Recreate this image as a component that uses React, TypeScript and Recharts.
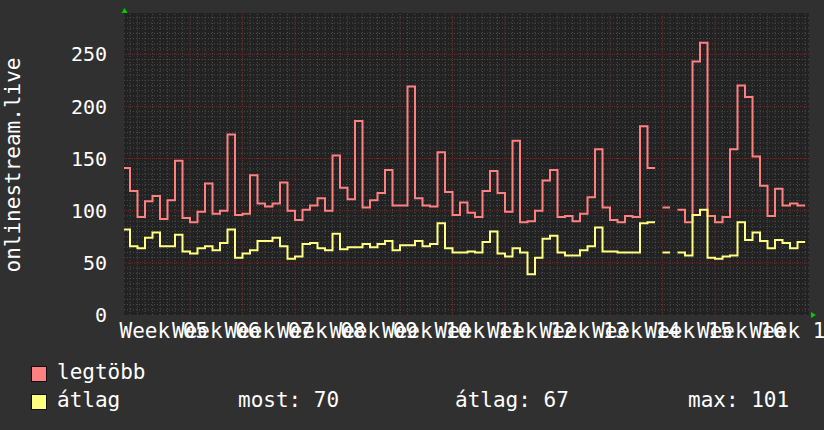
import { CartesianGrid, Line, LineChart, ReferenceDot, ReferenceLine, XAxis, YAxis } from 'recharts';

// napi értékek, 0. nap = a 05. hét előtti szombat
const legtobb = [
  141, 119, 94, 109, 114, 92, 110, 148, 93, 89, 99, 126, 97, 100, 173, 96, 97, 134, 107, 104,
  107, 127, 100, 91, 101, 105, 112, 100, 153, 122, 111, 186, 103, 110, 117, 139, 105, 105, 219, 112,
  105, 104, 156, 118, 96, 108, 98, 94, 119, 138, 117, 99, 167, 89, 90, 100, 129, 139, 94, 95,
  90, 97, 113, 159, 103, 91, 89, 95, 94, 181, 141, null, 103, null, 101, 89, 243, 261, 95, 89,
  94, 159, 220, 209, 152, 124, 95, 121, 105, 107, 105,
];
const atlag = [
  82, 66, 64, 74, 79, 66, 66, 77, 61, 59, 64, 66, 62, 69, 82, 55, 59, 62, 71, 71,
  74, 66, 54, 56, 68, 69, 64, 62, 78, 63, 65, 65, 68, 65, 68, 71, 62, 67, 67, 71,
  66, 68, 88, 64, 60, 60, 61, 60, 70, 80, 59, 56, 64, 60, 39, 55, 73, 76, 60, 57,
  57, 62, 66, 84, 61, 61, 60, 60, 60, 88, 89, null, 60, null, 60, 57, 96, 101, 55, 54,
  56, 57, 89, 72, 79, 71, 64, 72, 69, 64, 70,
];
const weekLabels = [
  'Week 05', 'Week 06', 'Week 07', 'Week 08', 'Week 09', 'Week 10', 'Week 11',
  'Week 12', 'Week 13', 'Week 14', 'Week 15', 'Week 16', 'Week 17',
];
const yTicks = [0, 50, 100, 150, 200, 250];
const stats = { most: 70, atlag: 67, max: 101 };

const FONT = '"DejaVu Sans Mono", monospace';
const FIRST_MONDAY = 2;
const X_DOMAIN: [number, number] = [0.2, 91.53];
const Y_MAX = 289.6;

// lépcsős vonal: minden nap eleje és vége egy-egy pont
const rows: { x: number; max: number | null; avg: number | null }[] = [];
legtobb.forEach((v, k) => {
  if (v === null) {
    rows.push({ x: k, max: null, avg: null });
    return;
  }
  rows.push({ x: k, max: v, avg: atlag[k] });
  rows.push({ x: k + 1, max: v, avg: atlag[k] });
});

const weekTicks = weekLabels.map((_, i) => FIRST_MONDAY + 7 * i + 3.5);
const dayLines = Array.from({ length: 91 }, (_, i) => i + 1);
const valueLines = Array.from({ length: 57 }, (_, i) => (i + 1) * 5);

const UpArrow = ({ cx, cy }: any) => (
  <path d={`M${cx - 2.5},${cy} L${cx + 0.5},${cy - 5} L${cx + 3.5},${cy} Z`} fill="#00cc00" />
);
const RightArrow = ({ cx, cy }: any) => (
  <path d={`M${cx + 2},${cy - 3} L${cx + 7},${cy} L${cx + 2},${cy + 3} Z`} fill="#00cc00" />
);

const box = (color: string) => ({
  position: 'absolute' as const,
  width: 14,
  height: 14,
  background: color,
  border: '1px solid #111',
});
const txt = { position: 'absolute' as const, fontFamily: FONT, fontSize: 21, color: '#fff', lineHeight: '21px' };

export default function App() {
  return (
    <div style={{ position: 'absolute', left: 0, top: 0, width: 824, height: 430, background: '#303030', overflow: 'hidden' }}>
      <LineChart width={824} height={430} data={rows} margin={{ top: 13, right: 15, bottom: 85, left: 0 }}>
        <CartesianGrid fill="#222222" horizontal={false} vertical={false} />
        {dayLines.filter((d) => (d - FIRST_MONDAY) % 7 !== 0).map((d) => (
          <ReferenceLine key={'vd' + d} x={d} stroke="#4e4e4e" strokeDasharray="1 2" />
        ))}
        {valueLines.filter((v) => v % 50 !== 0).map((v) => (
          <ReferenceLine key={'hv' + v} y={v} stroke="#4e4e4e" strokeDasharray="1 2" />
        ))}
        {dayLines.filter((d) => (d - FIRST_MONDAY) % 7 === 0).map((d) => (
          <ReferenceLine key={'vw' + d} x={d} stroke="#6e2e2e" strokeDasharray="1 1" />
        ))}
        {yTicks.filter((v) => v > 0).map((v) => (
          <ReferenceLine key={'hw' + v} y={v} stroke="#6e2e2e" strokeDasharray="1 1" />
        ))}
        <XAxis
          type="number"
          dataKey="x"
          domain={X_DOMAIN}
          allowDataOverflow
          ticks={weekTicks}
          interval={0}
          tickFormatter={(_, i) => weekLabels[i]}
          axisLine={false}
          tickLine={false}
          tickSize={0}
          tickMargin={8}
          height={30}
          tick={{ fill: '#ffffff', fontSize: 21, fontFamily: FONT }}
        />
        <YAxis
          type="number"
          domain={[0, Y_MAX]}
          allowDataOverflow
          ticks={yTicks}
          interval={0}
          width={124}
          axisLine={false}
          tickLine={false}
          tickSize={0}
          tickMargin={17}
          tick={{ fill: '#ffffff', fontSize: 20, fontFamily: FONT }}
        />
        <Line
          type="linear"
          dataKey="max"
          stroke="#ff8080"
          strokeWidth={2}
          dot={false}
          connectNulls={false}
          isAnimationActive={false}
        />
        <Line
          type="linear"
          dataKey="avg"
          stroke="#ffff80"
          strokeWidth={2}
          dot={false}
          connectNulls={false}
          isAnimationActive={false}
        />
        <ReferenceDot x={X_DOMAIN[0]} y={Y_MAX} ifOverflow="visible" shape={UpArrow} />
        <ReferenceDot x={X_DOMAIN[1]} y={0} ifOverflow="visible" shape={RightArrow} />
      </LineChart>

      <div
        style={{
          ...txt,
          left: 13,
          top: 165,
          transform: 'translate(-50%, -50%) rotate(-90deg)',
          whiteSpace: 'nowrap',
        }}
      >
        onlinestream.live
      </div>

      <div style={{ ...box('#ff8080'), left: 31, top: 366 }} />
      <div style={{ ...txt, left: 57, top: 362 }}>legtöbb</div>
      <div style={{ ...box('#ffff80'), left: 31, top: 394 }} />
      <div style={{ ...txt, left: 57, top: 390 }}>átlag</div>
      <div style={{ ...txt, left: 238, top: 390 }}>most: {stats.most}</div>
      <div style={{ ...txt, left: 455, top: 390 }}>átlag: {stats.atlag}</div>
      <div style={{ ...txt, left: 688, top: 390 }}>max: {stats.max}</div>
    </div>
  );
}
